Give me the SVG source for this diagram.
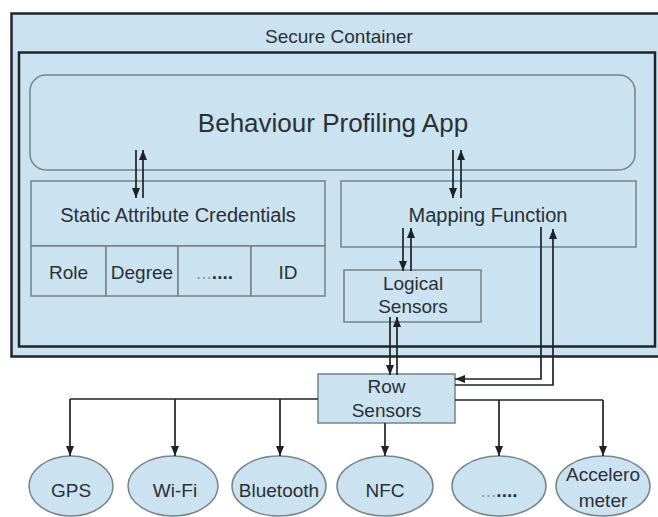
<svg xmlns="http://www.w3.org/2000/svg" width="658" height="517" viewBox="0 0 658 517">
  <style>
    .lbl { font-family: "Liberation Sans", Arial, sans-serif; fill: #2a3034; text-anchor: middle; }
    .t20 { font-size: 20px; }
    .t19 { font-size: 19px; }
    .box { fill: #cbe2f0; stroke: #74838a; stroke-width: 1.5; }
    .frame { fill: #cbe2f0; stroke: #1f2529; stroke-width: 2.5; }
    .sensor { fill: #cbe2f1; stroke: #77858b; stroke-width: 1.5; }
    .conn { fill: none; stroke: #1e2226; stroke-width: 1.7; }
    .arr { marker-end: url(#head); }
  </style>
  <defs>
    <marker id="head" markerUnits="userSpaceOnUse" markerWidth="11" markerHeight="9" refX="10" refY="4.5" orient="auto">
      <path d="M0,0.5 L10,4.5 L0,8.5 z" fill="#1e2226"/>
    </marker>
  </defs>

  <rect width="658" height="517" fill="#ffffff"/>

  <!-- outer secure container -->
  <g id="secure-container">
    <rect class="frame" x="11.5" y="13.5" width="660" height="343"/>
    <text class="lbl t19" x="339" y="43">Secure Container</text>
  </g>

  <!-- inner frame -->
  <g id="inner-frame">
    <rect class="frame" x="19" y="52.5" width="636" height="294"/>
  </g>

  <g id="behaviour-app">
    <rect class="box" x="30" y="75" width="605" height="95" rx="16" ry="16"/>
    <text class="lbl" x="333" y="132" font-size="26">Behaviour Profiling App</text>
  </g>

  <g id="static-credentials">
    <rect class="box" x="31" y="181" width="294" height="65"/>
    <text class="lbl t20" x="178" y="222">Static Attribute Credentials</text>
  </g>

  <g id="cell-role">
    <rect class="box" x="31" y="246" width="75" height="50"/>
    <text class="lbl t19" x="68.5" y="279">Role</text>
  </g>
  <g id="cell-degree">
    <rect class="box" x="106" y="246" width="72" height="50"/>
    <text class="lbl t19" x="142" y="279">Degree</text>
  </g>
  <g id="cell-more">
    <rect class="box" x="178" y="246" width="73" height="50"/>
    <text class="lbl t19" x="214.5" y="279"><tspan fill="#8a9aa6">...</tspan><tspan font-weight="bold">....</tspan></text>
  </g>
  <g id="cell-id">
    <rect class="box" x="251" y="246" width="74" height="50"/>
    <text class="lbl t19" x="288" y="279">ID</text>
  </g>

  <g id="mapping-function">
    <rect class="box" x="341" y="181" width="295" height="66"/>
    <text class="lbl t20" x="488" y="222">Mapping Function</text>
  </g>

  <g id="logical-sensors">
    <rect class="box" x="344" y="270" width="137" height="52"/>
    <text class="lbl t19" x="413" y="290">Logical</text>
    <text class="lbl t19" x="413" y="313">Sensors</text>
  </g>

  <g id="row-sensors">
    <rect class="box" x="318" y="374" width="137" height="49"/>
    <text class="lbl t19" x="386.5" y="393">Row</text>
    <text class="lbl t19" x="386.5" y="417">Sensors</text>
  </g>

  <g id="gps">
    <ellipse class="sensor" cx="71" cy="486" rx="42" ry="30"/>
    <text class="lbl t19" x="71" y="497">GPS</text>
  </g>
  <g id="wifi">
    <ellipse class="sensor" cx="173" cy="486" rx="45" ry="30"/>
    <text class="lbl t19" x="175" y="497">Wi-Fi</text>
  </g>
  <g id="bluetooth">
    <ellipse class="sensor" cx="279" cy="486" rx="47" ry="30"/>
    <text class="lbl t19" x="279" y="497">Bluetooth</text>
  </g>
  <g id="nfc">
    <ellipse class="sensor" cx="385" cy="486" rx="48" ry="30"/>
    <text class="lbl t19" x="385" y="497">NFC</text>
  </g>
  <g id="more-sensors">
    <ellipse class="sensor" cx="499" cy="486" rx="47" ry="30"/>
    <text class="lbl t19" x="499" y="497"><tspan fill="#8a9aa6">...</tspan><tspan font-weight="bold">....</tspan></text>
  </g>
  <g id="accelerometer">
    <ellipse class="sensor" cx="603" cy="486" rx="47" ry="30"/>
    <text class="lbl t19" x="603" y="481">Accelero</text>
    <text class="lbl t19" x="603" y="507">meter</text>
  </g>

  <!-- connectors -->
  <g id="connectors">
    <line class="conn arr" x1="136" y1="150" x2="136" y2="198"/>
    <line class="conn arr" x1="143" y1="198" x2="143" y2="150"/>

    <line class="conn arr" x1="453" y1="150" x2="453" y2="198"/>
    <line class="conn arr" x1="461" y1="198" x2="461" y2="150"/>

    <line class="conn arr" x1="403" y1="228" x2="403" y2="271"/>
    <line class="conn arr" x1="411" y1="271" x2="411" y2="228"/>

    <line class="conn arr" x1="390" y1="317" x2="390" y2="375"/>
    <line class="conn arr" x1="397" y1="375" x2="397" y2="317"/>

    <path class="conn arr" d="M541,227 V379 H455"/>
    <path class="conn arr" d="M455,385 H553 V229"/>

    <path class="conn" d="M318,399 H70"/>
    <line class="conn arr" x1="70" y1="399" x2="70" y2="456"/>
    <line class="conn arr" x1="175" y1="399" x2="175" y2="456"/>
    <line class="conn arr" x1="280" y1="399" x2="280" y2="456"/>
    <line class="conn arr" x1="385" y1="423" x2="385" y2="456"/>
    <path class="conn" d="M455,400 H603"/>
    <line class="conn arr" x1="499" y1="400" x2="499" y2="456"/>
    <line class="conn arr" x1="603" y1="400" x2="603" y2="456"/>
  </g>
</svg>
